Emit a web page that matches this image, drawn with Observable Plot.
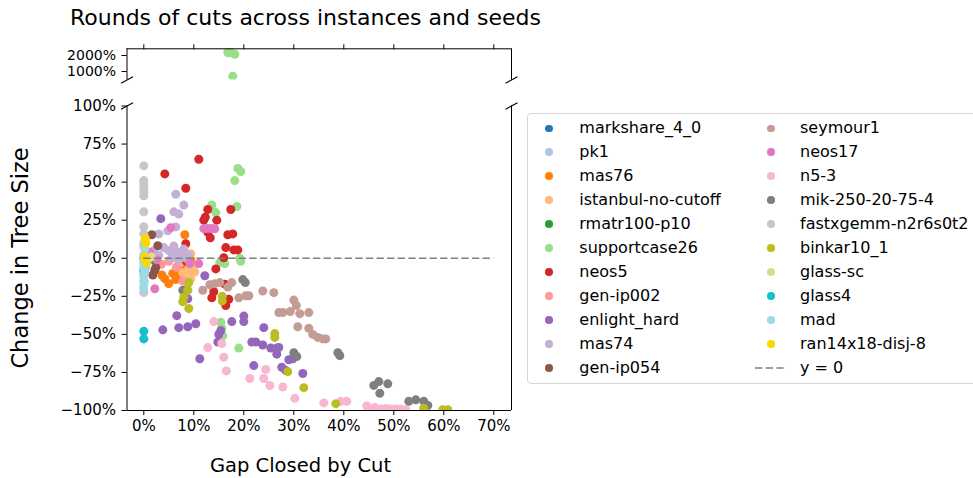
<!DOCTYPE html>
<html><head><meta charset="utf-8">
<script src="https://cdn.jsdelivr.net/npm/d3@7"></script>
<script src="https://cdn.jsdelivr.net/npm/@observablehq/plot@0.6"></script>
<style>
body{margin:0;background:#fff;font-family:"DejaVu Sans",sans-serif;}
#wrap{position:relative;width:973px;height:478px;overflow:hidden;background:#fff;}
.txt{position:absolute;white-space:nowrap;color:#000;}
</style></head><body><div id="wrap"></div>
<script>
// ---------- data ----------
const instances = ["markshare_4_0","pk1","mas76","istanbul-no-cutoff","rmatr100-p10","supportcase26","neos5","gen-ip002","enlight_hard","mas74","gen-ip054","seymour1","neos17","n5-3","mik-250-20-75-4","fastxgemm-n2r6s0t2","binkar10_1","glass-sc","glass4","mad","ran14x18-disj-8"];
const colors = ["#1f77b4","#aec7e8","#ff7f0e","#ffbb78","#2ca02c","#98df8a","#d62728","#ff9896","#9467bd","#c5b0d5","#8c564b","#c49c94","#e377c2","#f7b6d2","#7f7f7f","#c7c7c7","#bcbd22","#dbdb8d","#17becf","#9edae5","#ffd700"];

// [gap closed %, change in tree size %]
const markshare_4_0 = [[0,0],[0.2,-1]];
const pk1 = [[0,-3],[0.4,-6]];
const mas76 = [[8.2,15.4],[4.2,-13.4],[5,-16.7],[5.8,-10],[6.8,-12],[7.4,-7.5],[6.4,-14],[8.4,-3.6],[3.6,-11],[7,-4],[9.4,-1]];
const istanbul_no_cutoff = [[7.8,-9.5],[8.8,-10],[9,-7],[9.4,-13.4],[8.4,-12.7],[8.8,-16.7],[9.8,-5],[9.4,3],[8.8,-1.6],[10.2,-9],[7.2,-3]];
const rmatr100_p10 = [[1.8,0],[2,-1]];
const supportcase26 = [[16.8,2190],[17.4,2180],[18.2,2080],[17.8,710],[18.8,59],[19.4,57],[18.2,51],[13.6,35],[18.6,34],[14.4,30],[15.2,-3],[16.2,-3.5],[19.2,0],[19.4,-2],[15.4,-42],[15.6,-46],[15.8,-51],[19,-59]];
const neos5 = [[4.2,55.4],[11,65],[8.4,46],[12.8,32],[12,25],[12.3,27],[14.6,25],[17.4,32],[12.8,17],[13.3,13.4],[16.8,15.4],[17.8,16],[16.4,7],[18,5.5],[18.8,5.5],[8.4,9.5],[7.8,3.6],[8.5,-2],[16,0.3],[14.4,-7],[16.2,-17],[15.8,-28],[16.4,-31],[17,-27],[14,-22],[13.6,-26]];
const gen_ip002 = [[5,-2],[6.5,-6],[3.5,-4],[7.8,-15]];
const enlight_hard = [[3.4,26],[12.2,-11.5],[8.8,-26.6],[6.6,-37.7],[3.8,-47],[7,-45.6],[8.8,-45],[10.4,-43],[11.2,-66],[15,-50],[15.4,-47.5],[14.8,-55],[17.6,-41.6],[20,-38],[20,-41.6],[21.6,-55],[22.4,-55],[23.8,-57],[24,-45.6],[25.4,-59],[26.6,-59],[27,-58.6],[26.6,-63],[22,-70.5],[29,-66.7],[29.8,-66],[27.6,-71.6],[28.4,-73.8],[31.8,-75.7]];
const mas74 = [[6.4,42],[8,35],[6,30.5],[7,29],[6.4,20.6],[3,16],[4.8,18],[4,7],[5,5],[6,8],[7,4],[8,6],[9,2],[5.5,0],[7,-1],[8.5,0],[3,2],[2,5],[6.2,3],[7.6,1]];
const gen_ip054 = [[1.6,15.4],[2.8,8.2],[2.2,-8],[1.8,-11],[2.4,-6]];
const seymour1 = [[11.8,-21],[13.2,-17.4],[14.2,-16.7],[15.2,-16],[19,-26],[20.4,-24.6],[21,-24.6],[23.8,-21.5],[26,-22.6],[27,-35.7],[27.8,-35.7],[29.3,-35],[30,-27.5],[30.5,-31],[31.2,-36.4],[33,-35.7],[30.8,-45],[33,-46],[33.8,-50],[34.8,-52],[35.8,-53],[36.4,-53],[16.8,-19],[17.6,-16]];
const neos17 = [[5.4,20],[12,19.5],[12.8,19.5],[13.6,19.5],[14.2,19.3],[9.2,-3.5],[11,-3.5],[2.2,-20],[1.2,4],[2.6,-1]];
const n5_3 = [[14,-41.6],[12.8,-58.7],[15.6,-56],[16,-65],[16.5,-74],[21.2,-79],[24.4,-73],[24,-79],[25.2,-83.6],[27.8,-84.6],[30.2,-92],[36,-95],[39.4,-94],[40.6,-94],[44.6,-97],[46.2,-98],[48.4,-98.7],[49.4,-99],[50.4,-99],[51.4,-99],[52.4,-99.5],[47.5,-99],[45,-99.5]];
const mik_250_20_75_4 = [[7.8,-21],[19.8,-14],[20.3,-16],[30,-62],[30.6,-64.6],[38.8,-62],[39.2,-64],[46,-83.5],[47,-81],[47.2,-88.7],[48.8,-82.5],[53,-94],[54.4,-93],[56,-94],[56.8,-96.7]];
const fastxgemm_n2r6s0t2 = [[0,60.7],[0,51],[0,49],[0,46],[0,43.6],[0,41],[0,30.5],[0,20.7],[0,16],[0,8],[0,0],[0,-10],[0,-15],[0,-22.5]];
const binkar10_1 = [[9,-16],[8.8,-21],[8,-25.5],[7.8,-28.5],[9,-33],[15.7,-25],[15.7,-28],[26.2,-49.5],[26.2,-52],[28.8,-74.5],[32,-85],[38.4,-95.5],[56,-98.5],[59.8,-99.5],[60.8,-99.5]];
const glass_sc = [[1,0],[1.5,1]];
const glass4 = [[0,-48],[0,-53],[0,-8]];
const mad = [[0,10],[0.2,6],[0,2],[0.2,-3],[0,-6],[0.2,-9],[0,-12],[0.1,-15],[0,-18],[0,-20]];
const ran14x18_disj_8 = [[0.3,13],[0.4,10],[0.2,1],[0.3,-1],[0.5,-3]];

const seriesPoints = [markshare_4_0,pk1,mas76,istanbul_no_cutoff,rmatr100_p10,supportcase26,neos5,gen_ip002,enlight_hard,mas74,gen_ip054,seymour1,neos17,n5_3,mik_250_20_75_4,fastxgemm_n2r6s0t2,binkar10_1,glass_sc,glass4,mad,ran14x18_disj_8];

const xTicks = [0,10,20,30,40,50,60,70];
const yTicksLow = [-100,-75,-50,-25,0,25,50,75,100];
const yTicksHigh = [1000,2000];
const refLine = [0, 70]; // y = 0 from x=0 to x=70

// ---------- layout ----------
const W = 973, H = 478;
const xDomain = [-3.36, 73.54];
const yDomainLow = [-100, 100];
const yDomainHigh = [469, 2419];
const frameL = 126.5, frameR = 511;
const hi = {top: 0, h: 92, plotTop: 48.3, plotBot: 79.5};
const lo = {top: 92, h: 386, plotTop: 105.5, plotBot: 410};

const table = [];
seriesPoints.forEach((pts, i) => pts.forEach(([x, y]) => table.push({instance: instances[i], x, y})));

const fmtPct = d => (d < 0 ? "\u2212" + (-d) : "" + d) + "%";
const font = "DejaVu Sans";
const kx = (frameR - frameL) / (xDomain[1] - xDomain[0]);
const bx = 6 / kx;

function panel(cfg, yDomain, yTicks, isLow) {
  const ky = (cfg.plotBot - cfg.plotTop) / (yDomain[1] - yDomain[0]);
  const by = 3.3 / ky;
  const edgeY = isLow ? yDomain[1] : yDomain[0];
  const breaks = [{x: xDomain[0], y: edgeY}, {x: xDomain[1], y: edgeY}];
  const marks = [
    Plot.dot(table, {x: "x", y: "y", fill: "instance", r: 4.5, clip: true}),
  ];
  if (isLow) marks.push(Plot.ruleY([0], {x1: refLine[0], x2: refLine[1], stroke: "#808080", strokeWidth: 1.6, strokeDasharray: "7.4,3.2"}));
  marks.push(
    Plot.ruleX(xDomain, {stroke: "black", strokeWidth: 1}),
    Plot.ruleY([isLow ? yDomain[0] : yDomain[1]], {stroke: "black", strokeWidth: 1}),
    Plot.link(breaks, {x1: d => d.x - bx, x2: d => d.x + bx, y1: d => d.y - by, y2: d => d.y + by, stroke: "black", strokeWidth: 1.1}),
    Plot.axisY({ticks: yTicks, tickFormat: fmtPct, tickSize: 5, tickPadding: 6, label: null, fontSize: isLow ? 15 : 14}),
    isLow
      ? Plot.axisX({ticks: xTicks, tickFormat: d => d + "%", tickSize: 5, tickPadding: 5, label: null, fontSize: 15})
      : Plot.axisX({anchor: "top", ticks: xTicks, tickFormat: () => "", tickSize: 5, label: null})
  );
  const svg = Plot.plot({
    width: W, height: cfg.h,
    marginLeft: frameL, marginRight: W - frameR,
    marginTop: cfg.plotTop - cfg.top, marginBottom: cfg.top + cfg.h - cfg.plotBot,
    style: {background: "transparent", overflow: "visible", fontFamily: font, fontSize: "15px", color: "black"},
    x: {domain: xDomain},
    y: {domain: yDomain},
    color: {type: "ordinal", domain: instances, range: colors},
    marks
  });
  svg.style.position = "absolute";
  svg.style.left = "0px";
  svg.style.top = cfg.top + "px";
  return svg;
}

const wrap = document.getElementById("wrap");
wrap.appendChild(panel(lo, yDomainLow, yTicksLow, true));
wrap.appendChild(panel(hi, yDomainHigh, yTicksHigh, false));

function addText(str, left, top, size, extra) {
  const d = document.createElement("div");
  d.className = "txt";
  d.textContent = str;
  d.style.left = left + "px";
  d.style.top = top + "px";
  d.style.fontSize = size + "px";
  d.style.fontFamily = font;
  Object.assign(d.style, extra || {});
  wrap.appendChild(d);
  return d;
}
// title
addText("Rounds of cuts across instances and seeds", 70, 5, 22, {lineHeight: "26px"});
// x label
addText("Gap Closed by Cut", 150.5, 454, 19.5, {lineHeight: "24px", width: "300px", textAlign: "center"});
// y label (rotated)
addText("Change in Tree Size", 20 - 150, 258 - 12, 22.5, {lineHeight: "24px", width: "300px", textAlign: "center", transform: "rotate(-90deg)", transformOrigin: "150px 12px"});

// legend
const box = document.createElement("div");
Object.assign(box.style, {position: "absolute", left: "527px", top: "113px", width: "470px", height: "269px", border: "1px solid #d6d6d6", borderRadius: "4px", background: "rgba(255,255,255,0.8)"});
wrap.appendChild(box);
const rowY = r => 128.3 + r * 23.97;
const entries = instances.map((n, i) => ({label: n, color: colors[i]})).concat([{label: "y = 0", dash: true}]);
const NS = "http://www.w3.org/2000/svg";
entries.forEach((e, i) => {
  const col = i < 11 ? 0 : 1, row = i % 11;
  const mx = col ? 771 : 549, tx = col ? 800 : 579.3;
  const cy = rowY(row);
  if (e.dash) {
    const s = document.createElementNS(NS, "svg");
    s.setAttribute("width", "40"); s.setAttribute("height", "6");
    Object.assign(s.style, {position: "absolute", left: "755px", top: (cy - 3) + "px"});
    const l = document.createElementNS(NS, "line");
    l.setAttribute("x1", "0"); l.setAttribute("x2", "32"); l.setAttribute("y1", "3"); l.setAttribute("y2", "3");
    l.setAttribute("stroke", "#808080"); l.setAttribute("stroke-width", "1.6"); l.setAttribute("stroke-dasharray", "7.4,3.2");
    s.appendChild(l);
    wrap.appendChild(s);
  } else {
    const c = document.createElement("div");
    Object.assign(c.style, {position: "absolute", left: (mx - 3.8) + "px", top: (cy - 3.8) + "px", width: "7.6px", height: "7.6px", borderRadius: "50%", background: e.color});
    wrap.appendChild(c);
  }
  addText(e.label, tx, cy - 10.2, 16, {lineHeight: "20px"});
});
</script></body></html>
